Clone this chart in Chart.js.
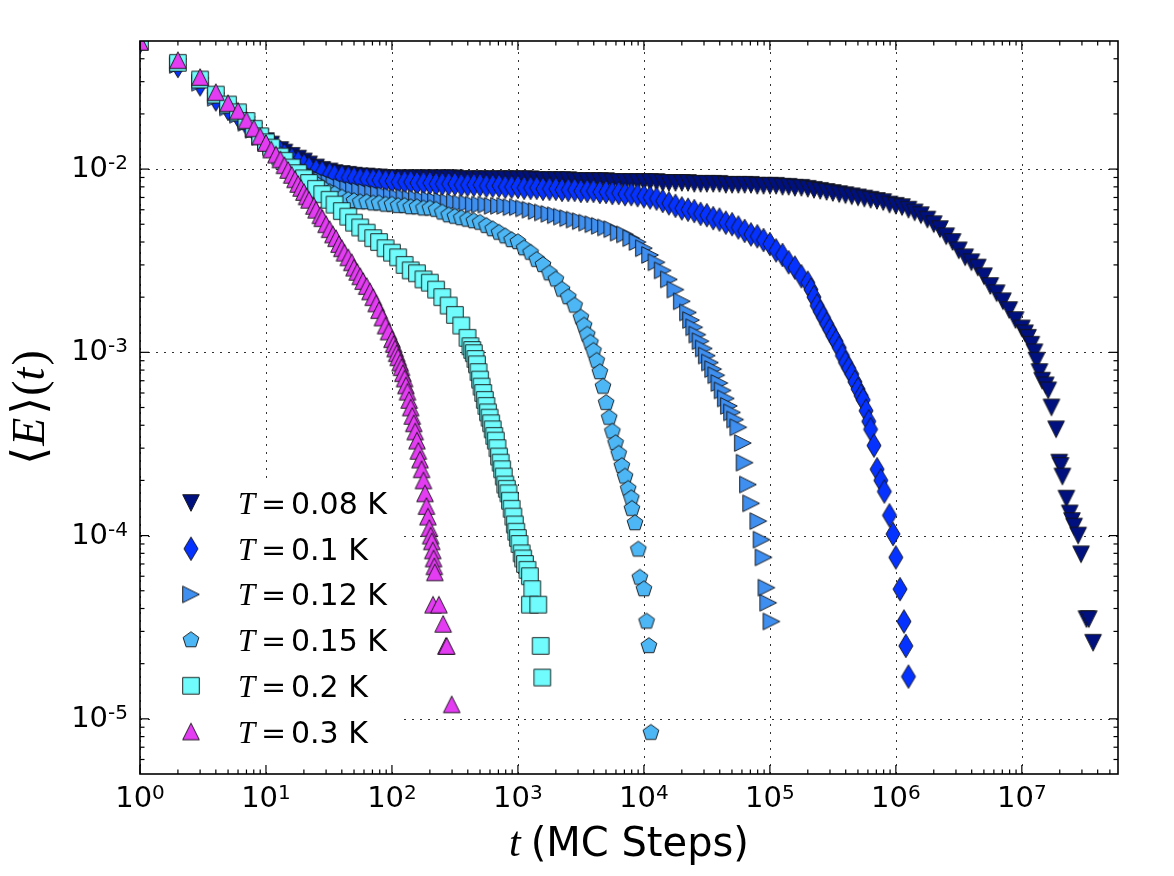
<!DOCTYPE html>
<html>
<head>
<meta charset="utf-8">
<script src="https://cdn.jsdelivr.net/npm/chart.js@4.4.1/dist/chart.umd.min.js"></script>
<style>
  html, body { margin: 0; padding: 0; background: #fff; }
  #wrap { width: 1174px; height: 876px; }
</style>
</head>
<body>
<div id="wrap"><canvas id="chart" width="1174" height="876"></canvas></div>
<script>
// Shared time grid (MC steps) for the dense part of each curve
const steps = [1, 2, 3, 4, 5, 6, 7, 8, 9, 10,
  11, 13, 14, 16, 18, 20, 22, 25, 28, 32, 35, 40, 45, 50, 56, 63, 71, 79, 89, 100,
  112, 126, 141, 158, 178, 200, 224, 251, 282, 316, 355, 398, 447, 501, 562, 631, 708, 794, 891, 1000,
  1120, 1260, 1410, 1580, 1780, 2000, 2240, 2510, 2820, 3160, 3550, 3980, 4470, 5010, 5620, 6310, 7080, 7940, 8910, 1e4,
  1.12e4, 1.26e4, 1.41e4, 1.58e4, 1.78e4, 2e4, 2.24e4, 2.51e4, 2.82e4, 3.16e4, 3.55e4, 3.98e4, 4.47e4, 5.01e4, 5.62e4, 6.31e4, 7.08e4, 7.94e4, 8.91e4, 1e5,
  1.12e5, 1.26e5, 1.41e5, 1.58e5, 1.78e5, 2e5, 2.24e5, 2.51e5, 2.82e5, 3.16e5, 3.55e5, 3.98e5, 4.47e5, 5.01e5, 5.62e5, 6.31e5, 7.08e5, 7.94e5, 8.91e5, 1e6,
  1.12e6, 1.26e6, 1.41e6, 1.58e6, 1.78e6, 2e6, 2.24e6, 2.51e6, 2.82e6, 3.16e6, 3.55e6, 3.98e6, 4.47e6, 5.01e6, 5.62e6, 6.31e6, 7.08e6, 7.94e6, 8.91e6, 1e7];

const temps = ['0.08', '0.1', '0.12', '0.15', '0.2', '0.3'];
const colors = ['#00117f', '#0532ff', '#3f8ff0', '#4db6f4', '#70fcfc', '#e33cf2'];
const shapes = ['tri-down', 'thin-diamond', 'tri-right', 'pentagon', 'square', 'tri-up'];

// <E>(t) on the shared grid
const e008 = [.0495, .0360, .0285, .0235, .0209, .0192, .0174, .0161, .0149, .0142,
  .0136, .0127, .0123, .0118, .0114, .0110, .0106, .0102, .0099, .0097, .0095, .0094, .0093, .0092, .0091, .0091, .0090, .0090, .0089, .0089,
  .0089, .0089, .0089, .0089, .0089, .0089, .0089, .0089, .0089, .0089, .0088, .0088, .0088, .0088, .0088, .0088, .0088, .0088, .0088, .0088,
  .0088, .0088, .0087, .0087, .0087, .0087, .0087, .0087, .0086, .0086, .0086, .0086, .0086, .0086, .0085, .0085, .0085, .0085, .0085, .0085,
  .0085, .0085, .0084, .0084, .0084, .0084, .0084, .0083, .0083, .0083, .0083, .0083, .0082, .0082, .0082, .0082, .0082, .0081, .0081, .0081,
  .0081, .0080, .0080, .0079, .0079, .0078, .0077, .0076, .0075, .0074, .0073, .0072, .0071, .0070, .0069, .0068, .0067, .0066, .0064, .0063,
  .0062, .0060, .0058, .0056, .0053, .0050, .0047, .0043, .0040, .0036, .0033, .0031, .0029, .0026, .0023, .0021, .0019, .0017, .0015, .00135];
const e010 = [.0495, .0365, .0290, .0240, .0213, .0195, .0176, .0163, .0150, .0142,
  .0134, .0124, .0119, .0113, .0109, .0105, .0101, .0098, .0096, .0094, .0092, .0091, .0090, .0089, .0088, .0088, .0087, .0087, .0086, .0086,
  .0085, .0085, .0085, .0084, .0084, .0084, .0083, .0083, .0083, .0083, .0082, .0082, .0082, .0082, .0081, .0081, .0081, .0080, .0080, .0080,
  .0079, .0079, .0079, .0078, .0078, .0078, .0077, .0077, .0077, .0076, .0076, .0076, .0075, .0075, .0074, .0074, .0073, .0073, .0072, .0071,
  .0070, .0069, .0067, .0065, .0063, .0061, .0060, .0059, .0057, .0056, .0054, .0053, .0051, .0050, .0048, .0046, .0044, .0043, .0041, .0039,
  .0036, .0034, .0031, .0029, .0026, .0024];
const e012 = [.0495, .0370, .0296, .0245, .0217, .0198, .0179, .0164, .0150, .0141,
  .0133, .0121, .0116, .0109, .0103, .0098, .0094, .0090, .0087, .0084, .0082, .0080, .0078, .0077, .0076, .0075, .0074, .0073, .0072, .0071,
  .0070, .0070, .0069, .0069, .0068, .0068, .0067, .0067, .0066, .0066, .0065, .0065, .0064, .0064, .0064, .0063, .0063, .0063, .0062, .0062,
  .0061, .0060, .0059, .0058, .0057, .0056, .0055, .0054, .0053, .0052, .0051, .0050, .0049, .0048, .0047, .0045, .0044, .0042, .0040, .0037,
  .0034, .0031, .0028, .0025, .0022, .0019, .00165];
const e015 = [.0495, .0375, .0302, .0250, .0221, .0201, .0181, .0165, .0151, .0141,
  .0132, .0119, .0113, .0105, .0098, .0093, .0088, .0083, .0079, .0075, .0073, .0070, .0068, .0067, .0066, .0066, .0065, .0065, .0064, .0064,
  .0063, .0063, .0062, .0062, .0061, .0061, .0060, .0058, .0056, .0055, .0054, .0053, .0052, .0051, .0049, .0047, .0045, .0043, .0041, .0040,
  .0037, .0035, .0032, .0030, .0027, .0025, .0022, .0020, .0018, .00155];
const e020 = [.0495, .0380, .0308, .0255, .0225, .0204, .0183, .0166, .0151, .0140,
  .0131, .0117, .0111, .0102, .0095, .0089, .0084, .0078, .0073, .0068, .0064, .0059, .0055, .0051, .0048, .0045, .0042, .0040, .0037, .0035,
  .0033, .0030, .0028, .0027, .0025, .0024, .0022, .0020, .0018, .0016, .0014, .0012];
const e030 = [.0495, .0393, .0318, .0263, .0229, .0208, .0185, .0167, .0151, .0139];

// remaining points of each curve (steep part and scattered last points), read one by one
const tail008T = [1.06e7, 1.12e7, 1.19e7, 1.26e7, 1.31e7, 1.38e7, 1.45e7, 1.55e7, 1.62e7, 1.72e7, 1.87e7, 1.98e7, 2.03e7, 2.1e7, 2.26e7, 2.4e7, 2.5e7, 2.6e7, 2.8e7, 2.95e7, 3.26e7, 3.4e7, 3.68e7];
const tail008E = [.00127, .0012, .0011, .0010, .0009, .00078, .0007, .00066, .00062, .0005, .00038, .00025, .00024, .00021, .000159, .000132, .00012, .000112, .0001, .000079, .000035, .000035, .000026];
const tail010T = [2.12e5, 2.24e5, 2.37e5, 2.51e5, 2.66e5, 2.82e5, 2.99e5, 3.16e5, 3.35e5, 3.55e5, 3.76e5, 3.98e5, 4.22e5, 4.47e5, 4.73e5, 5.01e5, 5.3e5, 5.5e5, 5.8e5, 6.1e5, 6.3e5, 6.7e5, 7.1e5, 7.6e5, 8.1e5, 8.9e5, 9.5e5, 1e6, 1.08e6, 1.16e6, 1.2e6, 1.26e6];
const tail010E = [.0022, .0020, .0018, .00167, .00155, .00143, .00133, .00123, .00115, .00106, .00096, .00088, .00082, .00076, .00069, .00063, .00058, .00055, .00048, .00042, .00038, .00031, .00023, .0002, .000174, .000129, .000102, .000076, .000051, .000034, .000025, .000017];
const tail012T = [2.37e4, 2.51e4, 2.66e4, 2.82e4, 2.99e4, 3.16e4, 3.35e4, 3.55e4, 3.76e4, 3.98e4, 4.22e4, 4.47e4, 4.73e4, 5.01e4, 5.31e4, 5.62e4, 6.1e4, 6.3e4, 6.7e4, 7.1e4, 8.1e4, 8.6e4, 8.9e4, 9.4e4, 9.7e4, 1.03e5];
const tail012E = [.0015, .00137, .00125, .00115, .00105, .00096, .00088, .00081, .00075, .00068, .00062, .00056, .00051, .00047, .00043, .00039, .00032, .00025, .00019, .00015, .00012, .000095, .000076, .000052, .000043, .000034];
const tail015T = [3350, 3550, 3760, 3980, 4220, 4470, 4730, 5010, 5300, 5620, 5960, 6310, 6680, 7080, 7500, 7940, 8030, 8490, 9020, 9290, 10000, 10500, 10960, 11370];
const tail015E = [.0014, .00125, .00113, .00102, .0009, .00078, .00065, .00053, .00044, .00037, .00032, .00028, .00024, .00021, .00018, .00016, .00014, .000117, .000084, .000059, .000051, .000034, .000025, .0000084];
const tail020T = [420, 434, 447, 460, 473, 487, 501, 515, 530, 546, 562, 579, 596, 613, 631, 649,
  668, 688, 708, 729, 750, 772, 794, 817, 841, 865, 892, 920, 945, 970, 1000, 1030,
  1070, 1100, 1137, 1190, 1245, 1300, 1245, 1450, 1515, 1560];
const tail020E = [.00108, .00103, .00099, .00092, .00086, .00078, .00071, .00065, .0006, .00055, .00051, .00047, .00044, .00041, .00038, .00035,
  .00033, .0003, .00027, .00025, .00023, .00021, .00019, .00018, .00017, .000155, .00014, .000127, .000115, .000105, .000097, .00009,
  .00008, .000075, .00007, .000065, .00006, .000051, .000042, .000042, .000025, .0000168];
const tail030T = [11, 12, 13, 14, 15, 16, 17, 18, 19, 20, 21, 22, 24, 25, 27, 28, 30, 32, 34, 36, 38, 40, 42, 45, 48, 50, 53, 56, 59, 63,
  67, 71, 75, 79, 84, 89, 94, 100, 103, 106, 109, 112, 116, 119, 122, 126, 129, 133, 137, 141, 145, 149, 153, 158,
  162, 167, 172, 178, 183, 188, 193, 198, 203, 207, 211, 214, 217, 219, 212, 236, 255, 268, 272, 298];
const tail030E = [.0128, .0120, .0113, .0105, .0099, .0093, .0088, .0083, .0079, .0075, .0071, .0068, .0063, .0060, .0056, .0054, .0050, .0047, .0044, .0042, .0039, .0037, .0035, .0033, .0031, .0029, .00275, .0026, .00245, .0023,
  .00215, .0020, .00185, .0017, .00155, .0014, .0013, .00118, .00111, .00105, .00099, .00094, .00088, .00083, .00077, .00072, .00066, .00061, .00055, .0005, .00045, .00041, .00037, .00033,
  .00029, .00026, .00023, .0002, .00017, .000145, .000127, .00011, .0001, .000093, .000083, .000075, .000068, .000063, .000042, .000042, .000033, .000025, .000025, .000012];

const grids = [e008, e010, e012, e015, e020, e030];
const tailsT = [tail008T, tail010T, tail012T, tail015T, tail020T, tail030T];
const tailsE = [tail008E, tail010E, tail012E, tail015E, tail020E, tail030E];

// axes
const xDecades = [1, 10, 100, 1e3, 1e4, 1e5, 1e6, 1e7];
const xExps = ['0', '1', '2', '3', '4', '5', '6', '7'];
const yDecades = [1e-5, 1e-4, 1e-3, 1e-2];
const yExps = ['-5', '-4', '-3', '-2'];
const minorSteps = [2, 3, 4, 5, 6, 7, 8, 9];
const X_MIN = 1, X_MAX = 5.8e7, Y_MIN = 5e-6, Y_MAX = 0.05;

const MS = 16.6; // marker size (px)
const SANS = '"DejaVu Sans", sans-serif';
const SERIF = '"Liberation Serif", "DejaVu Serif", serif';

function makeMarker(shape, fill) {
  const c = document.createElement('canvas');
  c.width = 30;
  c.height = 30;
  const g = c.getContext('2d');
  const h = MS / 2;
  g.translate(15, 15);
  g.beginPath();
  if (shape === 'tri-up') {
    g.moveTo(0, -h); g.lineTo(h, h); g.lineTo(-h, h);
  } else if (shape === 'tri-down') {
    g.moveTo(0, h); g.lineTo(h, -h); g.lineTo(-h, -h);
  } else if (shape === 'tri-right') {
    g.moveTo(h, 0); g.lineTo(-h, h); g.lineTo(-h, -h);
  } else if (shape === 'square') {
    g.rect(-h, -h, MS, MS);
  } else if (shape === 'thin-diamond') {
    const a = MS * Math.SQRT1_2;
    g.moveTo(0, -a); g.lineTo(0.6 * a, 0); g.lineTo(0, a); g.lineTo(-0.6 * a, 0);
  } else if (shape === 'pentagon') {
    for (let k = 0; k < 5; k++) {
      const ang = -Math.PI / 2 + k * 2 * Math.PI / 5;
      if (k === 0) g.moveTo(h * Math.cos(ang), h * Math.sin(ang));
      else g.lineTo(h * Math.cos(ang), h * Math.sin(ang));
    }
  }
  g.closePath();
  g.fillStyle = fill;
  g.fill();
  g.lineWidth = 1;
  g.strokeStyle = 'rgba(20,20,20,0.92)';
  g.stroke();
  return c;
}

const markers = shapes.map((s, i) => makeMarker(s, colors[i]));

function buildPoints(i) {
  const pts = grids[i].map((v, k) => ({ x: steps[k], y: v }));
  tailsT[i].forEach((t, k) => pts.push({ x: t, y: tailsE[i][k] }));
  return pts;
}

const datasets = temps.map((T, i) => ({
  label: 'T=' + T + ' K',
  data: buildPoints(i),
  pointStyle: markers[i],
  pointRadius: 9,
  showLine: false,
  clip: 0,
  order: temps.length - 1 - i,
}));

// text made of pieces with different fonts
function pieceWidth(ctx, pieces) {
  let w = 0;
  pieces.forEach(p => { ctx.font = p.font; w += ctx.measureText(p.text).width + (p.gap || 0); });
  return w;
}
function drawPieces(ctx, pieces, x, y) {
  pieces.forEach(p => {
    ctx.font = p.font;
    ctx.fillText(p.text, x, y + (p.dy || 0));
    x += ctx.measureText(p.text).width + (p.gap || 0);
  });
}

function powerLabel(exp) {
  return [
    { text: '10', font: '29px ' + SANS },
    { text: exp, font: '20px ' + SANS, dy: -8 },
  ];
}

const axesPlugin = {
  id: 'axesPlugin',
  beforeDatasetsDraw(chart) {
    const { ctx, chartArea: a, scales: { x, y } } = chart;
    ctx.save();
    ctx.strokeStyle = 'rgba(0,0,0,0.8)';
    ctx.lineWidth = 1;
    ctx.setLineDash([2, 6]);
    xDecades.forEach(v => {
      const px = Math.round(x.getPixelForValue(v)) + 0.5;
      ctx.beginPath(); ctx.moveTo(px, a.bottom); ctx.lineTo(px, a.top); ctx.stroke();
    });
    yDecades.forEach(v => {
      const py = Math.round(y.getPixelForValue(v)) + 0.5;
      ctx.beginPath(); ctx.moveTo(a.left, py); ctx.lineTo(a.right, py); ctx.stroke();
    });
    ctx.restore();
  },
  afterDatasetsDraw(chart) {
    const { ctx, chartArea: a, scales: { x, y } } = chart;
    ctx.save();

    // legend (white patch, no frame)
    ctx.fillStyle = '#fff';
    ctx.fillRect(153, 478, 249, 288);
    temps.forEach((T, i) => {
      const cy = 503 + i * 45.7;
      const m = markers[i];
      ctx.drawImage(m, 191 - m.width / 2, cy - m.height / 2);
      ctx.fillStyle = '#000';
      ctx.textAlign = 'left';
      ctx.textBaseline = 'alphabetic';
      ctx.font = 'italic 31px ' + SERIF;
      ctx.fillText('T', 238, cy + 11);
      ctx.font = '30px "DejaVu Serif", serif';
      ctx.fillText('=', 261, cy + 11);
      ctx.font = '30px ' + SANS;
      ctx.fillText(T + ' K', 291, cy + 11);
    });

    // frame
    ctx.strokeStyle = '#000';
    ctx.lineWidth = 1.6;
    ctx.strokeRect(a.left, a.top, a.right - a.left, a.bottom - a.top);

    // inward ticks on all four sides
    const tick = (px, py, dx, dy) => { ctx.beginPath(); ctx.moveTo(px, py); ctx.lineTo(px + dx, py + dy); ctx.stroke(); };
    ctx.lineWidth = 1.2;
    xDecades.forEach(d => {
      const px = x.getPixelForValue(d);
      tick(px, a.bottom, 0, -9); tick(px, a.top, 0, 9);
      minorSteps.forEach(m => {
        if (m * d >= X_MAX) return;
        const mx = x.getPixelForValue(m * d);
        tick(mx, a.bottom, 0, -4.5); tick(mx, a.top, 0, 4.5);
      });
    });
    [1e-6].concat(yDecades).forEach(d => {
      if (d >= Y_MIN) {
        const py = y.getPixelForValue(d);
        tick(a.left, py, 9, 0); tick(a.right, py, -9, 0);
      }
      minorSteps.forEach(m => {
        const v = m * d;
        if (v <= Y_MIN || v >= Y_MAX) return;
        const my = y.getPixelForValue(v);
        tick(a.left, my, 4.5, 0); tick(a.right, my, -4.5, 0);
      });
    });

    // tick labels
    ctx.fillStyle = '#000';
    ctx.textAlign = 'left';
    ctx.textBaseline = 'alphabetic';
    xDecades.forEach((d, i) => {
      const parts = powerLabel(xExps[i]);
      const w = pieceWidth(ctx, parts);
      drawPieces(ctx, parts, x.getPixelForValue(d) - w / 2, a.bottom + 33);
    });
    yDecades.forEach((d, i) => {
      const parts = powerLabel(yExps[i]);
      const w = pieceWidth(ctx, parts);
      drawPieces(ctx, parts, a.left - 12 - w, y.getPixelForValue(d) + 8);
    });

    // x title
    const xt = [
      { text: 't', font: 'italic 42px ' + SERIF, gap: 10 },
      { text: '(MC Steps)', font: '40px ' + SANS },
    ];
    const xw = pieceWidth(ctx, xt);
    drawPieces(ctx, xt, (a.left + a.right) / 2 - xw / 2, 856);

    // y title, rotated
    const yt = [
      { text: '\u27E8', font: '46px "DejaVu Sans", sans-serif', gap: 1 },
      { text: 'E', font: 'italic 46px ' + SERIF, gap: 3 },
      { text: '\u27E9', font: '46px "DejaVu Sans", sans-serif', gap: 1 },
      { text: '(', font: '46px ' + SERIF },
      { text: 't', font: 'italic 46px ' + SERIF, gap: 2 },
      { text: ')', font: '46px ' + SERIF },
    ];
    const yw = pieceWidth(ctx, yt);
    ctx.translate(44, (a.top + a.bottom) / 2);
    ctx.rotate(-Math.PI / 2);
    drawPieces(ctx, yt, -yw / 2, 0);

    ctx.restore();
  },
};

Chart.defaults.font.family = SANS;

new Chart(document.getElementById('chart'), {
  type: 'scatter',
  data: { datasets },
  options: {
    responsive: false,
    animation: false,
    events: [],
    layout: { padding: { top: 41, right: 56, left: 0, bottom: 0 } },
    plugins: { legend: { display: false }, tooltip: { enabled: false } },
    scales: {
      x: {
        type: 'logarithmic',
        position: 'bottom',
        min: X_MIN,
        max: X_MAX,
        ticks: { display: false },
        grid: { display: false },
        border: { display: false },
        afterFit: s => { s.height = 102; },
      },
      y: {
        type: 'logarithmic',
        position: 'left',
        min: Y_MIN,
        max: Y_MAX,
        ticks: { display: false },
        grid: { display: false },
        border: { display: false },
        afterFit: s => { s.width = 140; },
      },
    },
  },
  plugins: [axesPlugin],
});
</script>
</body>
</html>
